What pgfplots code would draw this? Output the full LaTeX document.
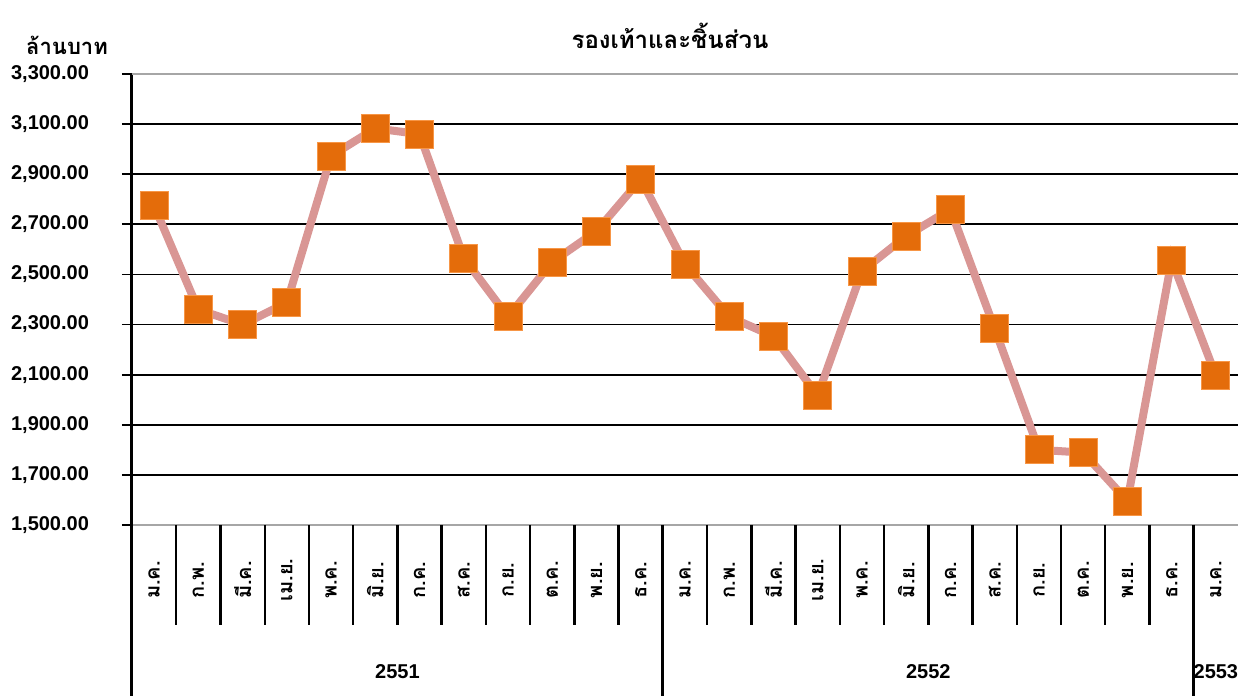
\documentclass[border=0pt]{standalone}
\usepackage{pgfplots}
\pgfplotsset{compat=1.18}
\usepackage{fontspec}
\setmainfont{Liberation Sans}
\newfontfamily\thaifont[Script=Thai]{Loma}
\definecolor{linepink}{RGB}{217,150,148}
\definecolor{mkorange}{RGB}{228,108,10}
\definecolor{mkedge}{RGB}{247,150,70}
\begin{document}
\begin{tikzpicture}
\path[use as bounding box] (-66pt,-85.5pt) rectangle (561pt,262.5pt);
\begin{axis}[
  at={(0pt,0pt)}, anchor=south west,
  scale only axis, width=553pt, height=225.5pt,
  xmin=-0.5, xmax=24.5, ymin=1500, ymax=3300,
  ytick={1500,1700,...,3300},
  xtick={0,...,24},
  xticklabels={ม.ค.,ก.พ.,มี.ค.,เม.ย.,พ.ค.,มิ.ย.,ก.ค.,ส.ค.,ก.ย.,ต.ค.,พ.ย.,ธ.ค.,ม.ค.,ก.พ.,มี.ค.,เม.ย.,พ.ค.,มิ.ย.,ก.ค.,ส.ค.,ก.ย.,ต.ค.,พ.ย.,ธ.ค.,ม.ค.},
  axis x line*=bottom, axis y line*=left,
  x axis line style={draw=gray!70, line width=1pt, -},
  y axis line style={draw=black, line width=1.5pt, -},
  ymajorgrids, grid style={black, line width=0.9pt},
  xtick style={draw=none},
  ytick style={black, line width=0.9pt},
  ytick align=outside, major tick length=5pt,
  yticklabel style={font=\fontsize{10}{12}\selectfont\bfseries, xshift=-13pt},
  /pgf/number format/.cd, fixed, fixed zerofill, precision=2, 1000 sep={,}, assume math mode=true,
  /pgfplots/.cd,
  xticklabel style={font=\thaifont\bfseries\fontsize{10}{12}\selectfont, yshift=-27.5pt, rotate=90, anchor=center},
  clip=false,
]
\draw[gray!70, line width=1pt] (axis cs:-0.5,3300) -- (axis cs:24.5,3300);
\addplot[linepink, line width=4pt, mark=square*, mark size=7pt,
  mark options={fill=mkorange, draw=mkedge, line width=0.4pt, solid}]
  coordinates {
  (0,2774) (1,2360) (2,2300) (3,2387) (4,2973) (5,3083) (6,3060) (7,2566)
  (8,2331) (9,2550) (10,2673) (11,2880) (12,2540) (13,2331) (14,2253) (15,2017)
  (16,2513) (17,2653) (18,2760) (19,2284) (20,1800) (21,1789) (22,1596) (23,2557)
  (24,2096)};
\pgfplotsinvokeforeach{0.5,1.5,...,23.5}{\draw[black, line width=1.2pt] (axis cs:#1,1500) -- ++(0pt,-50pt);}
\pgfplotsinvokeforeach{-0.5,11.5,23.5}{\draw[black, line width=1.5pt] (axis cs:#1,1500) -- ++(0pt,-90pt);}
\node[font=\fontsize{10}{12}\selectfont\bfseries] at ([yshift=-73.5pt]axis cs:5.5,1500) {2551};
\node[font=\fontsize{10}{12}\selectfont\bfseries] at ([yshift=-73.5pt]axis cs:17.5,1500) {2552};
\node[font=\fontsize{10}{12}\selectfont\bfseries] at ([yshift=-73.5pt]axis cs:24,1500) {2553};
\end{axis}
\node[font=\thaifont\bfseries\fontsize{12}{14}\selectfont] at (269pt,244.5pt) {รองเท้าและชิ้นส่วน};
\node[font=\thaifont\bfseries\fontsize{11}{13}\selectfont, anchor=base, inner sep=0pt] at (-32.5pt,235pt) {ล้านบาท};
\end{tikzpicture}
\end{document}
